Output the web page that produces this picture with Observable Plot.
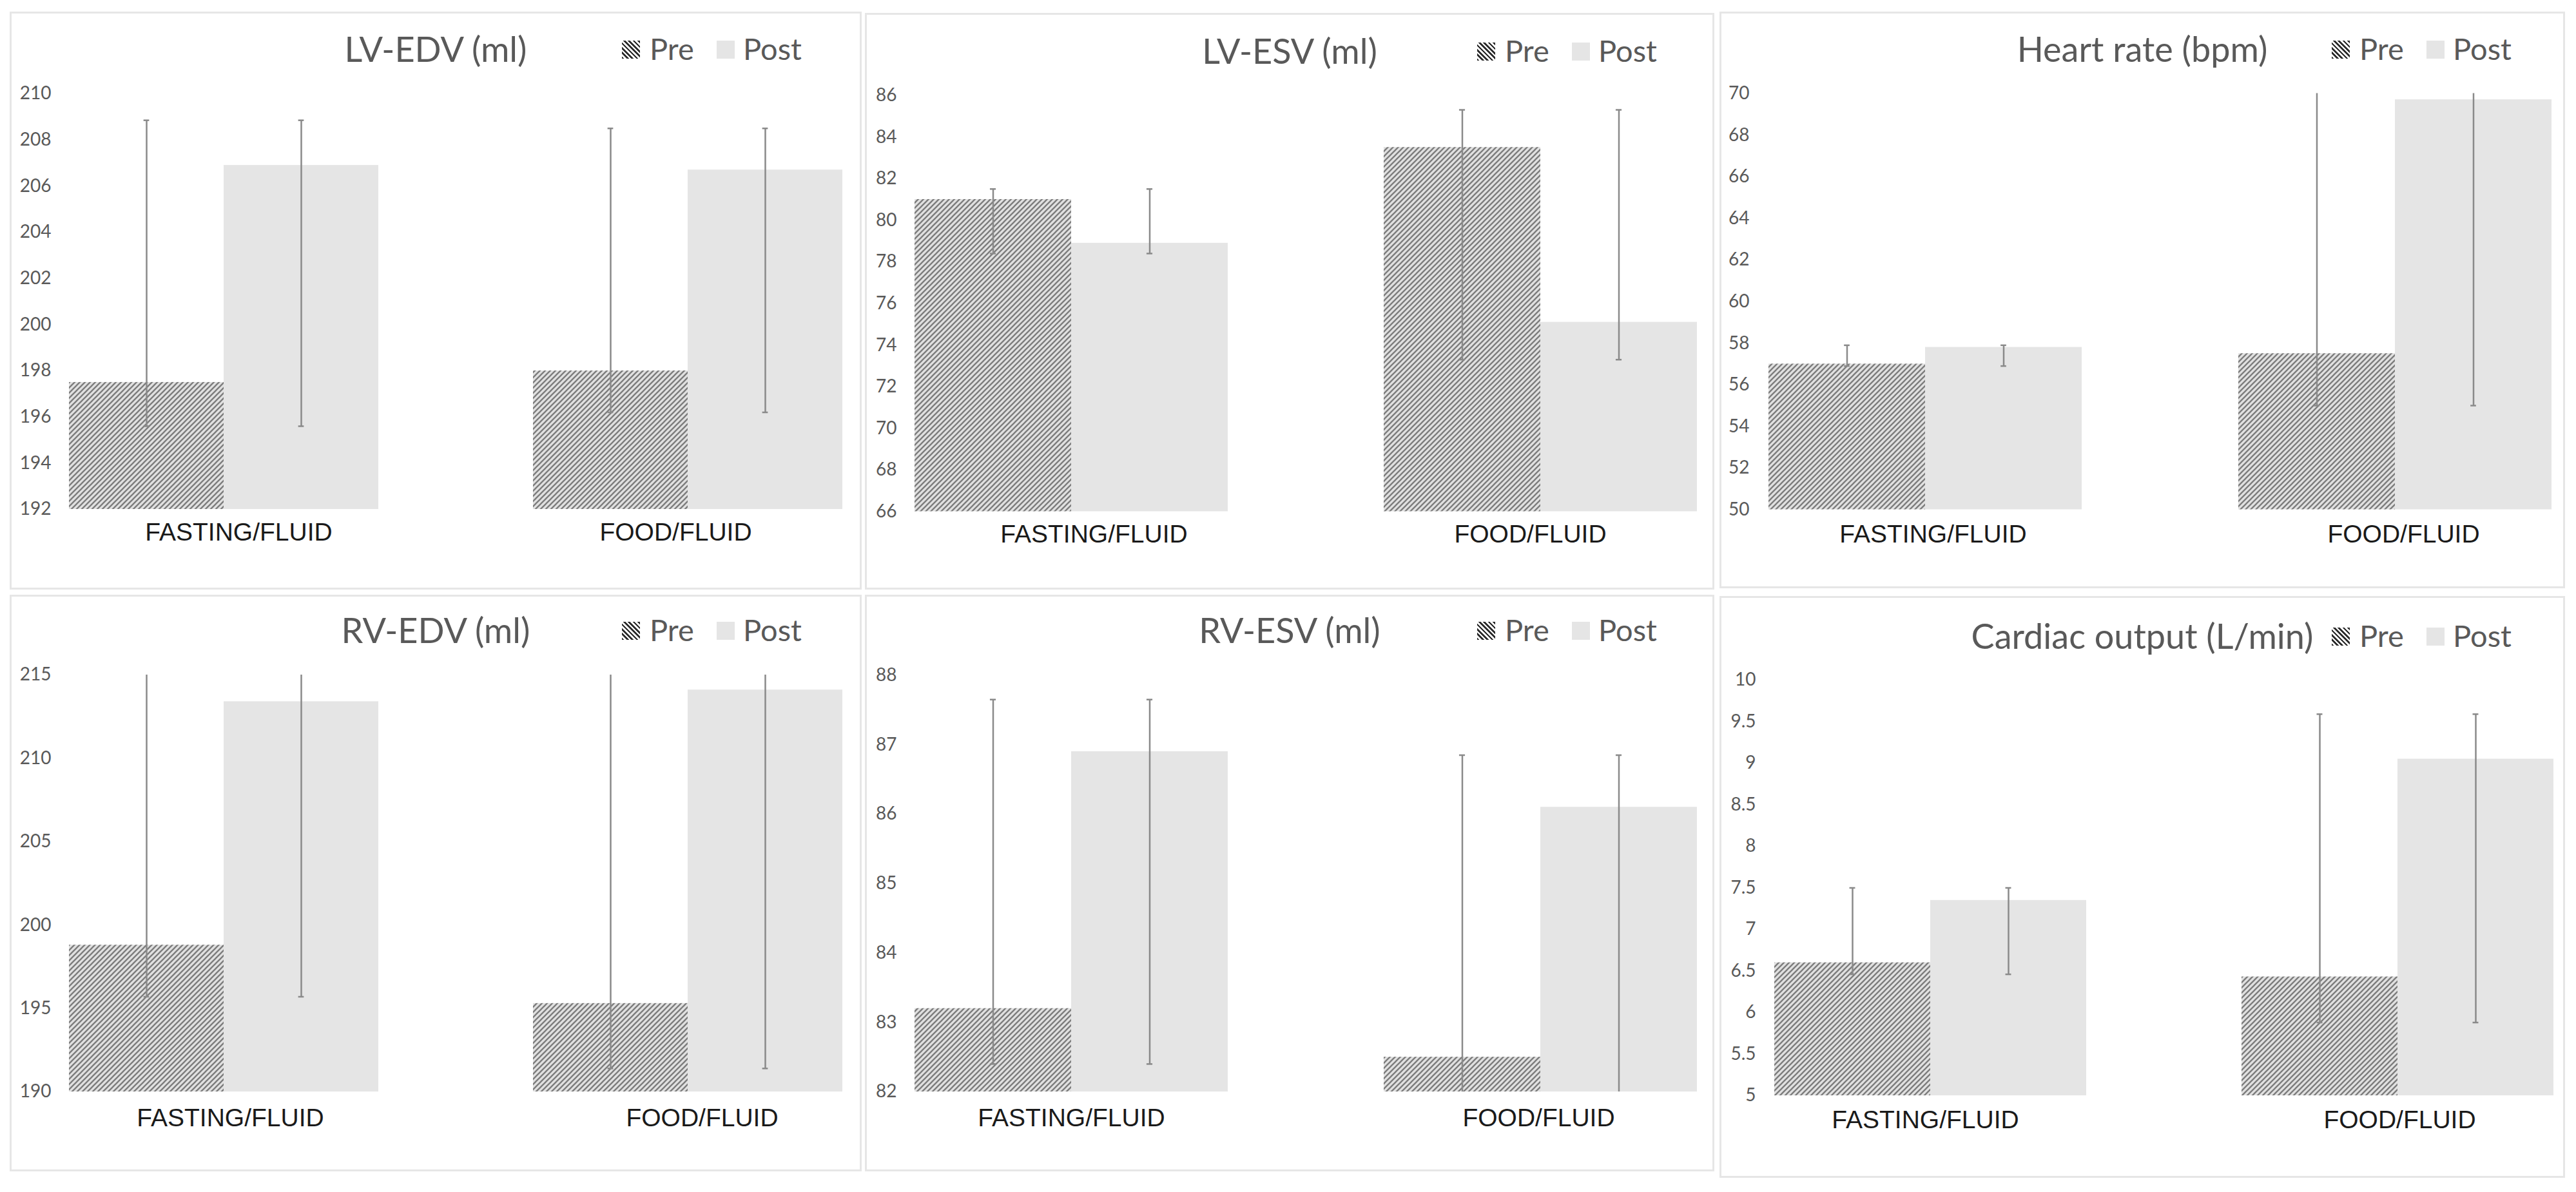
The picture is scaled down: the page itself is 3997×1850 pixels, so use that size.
<!DOCTYPE html>
<html>
<head>
<meta charset="utf-8">
<script src="https://cdn.jsdelivr.net/npm/d3@7"></script>
<script src="https://cdn.jsdelivr.net/npm/@observablehq/plot@0.6"></script>
<style>
  html, body { margin: 0; padding: 0; background: #ffffff; }
  body { width: 3997px; height: 1850px; position: relative; overflow: hidden; }
  .panel { position: absolute; box-sizing: border-box; }
  .frame { position: absolute; left: 0; top: 0; right: 0; bottom: 0; border: 3px solid #e6e6e6; pointer-events: none; }
  .header { position: relative; height: 100px; }
  .title { position: absolute; left: 0; right: 0; text-align: center; font-family: Lato, sans-serif; font-size: 54px; line-height: 54px; color: #595959; white-space: nowrap; }
  .ltext { position: absolute; font-family: Lato, sans-serif; font-size: 47px; line-height: 47px; color: #595959; white-space: nowrap; }
  .swatch { position: absolute; width: 28px; height: 28px; }
  .swatch.pre { background: repeating-linear-gradient(45deg, #2e2e2e 0px, #2e2e2e 2.6px, #ffffff 2.6px, #ffffff 5.2px); }
  .swatch.post { background: #e5e5e5; }
  .panel svg { display: block; }
</style>
</head>
<body>
<script>
// ---------- data ----------
const categories = ["FASTING/FLUID", "FOOD/FLUID"];
const series = ["Pre", "Post"];
const titles = ["LV-EDV (ml)", "LV-ESV (ml)", "Heart rate (bpm)", "RV-EDV (ml)", "RV-ESV (ml)", "Cardiac output (L/min)"];

const lvEdvPre = [197.5, 198.0];
const lvEdvPost = [206.9, 206.7];
const lvEdvErrLow = [195.6, 196.2];
const lvEdvErrHigh = [208.85, 208.5];
const lvEdvTicks = [192, 194, 196, 198, 200, 202, 204, 206, 208, 210];

const lvEsvPre = [81.0, 83.5];
const lvEsvPost = [78.9, 75.1];
const lvEsvErrLow = [78.4, 73.3];
const lvEsvErrHigh = [81.5, 85.3];
const lvEsvTicks = [66, 68, 70, 72, 74, 76, 78, 80, 82, 84, 86];

const hrPre = [57.0, 57.5];
const hrPost = [57.8, 69.7];
const hrErrLow = [56.9, 55.0];
const hrErrHigh = [57.9, 72.2];
const hrTicks = [50, 52, 54, 56, 58, 60, 62, 64, 66, 68, 70];

const rvEdvPre = [198.8, 195.3];
const rvEdvPost = [213.4, 214.1];
const rvEdvErrLow = [195.7, 191.4];
const rvEdvErrHigh = [216.5, 218.0];
const rvEdvTicks = [190, 195, 200, 205, 210, 215];

const rvEsvPre = [83.2, 82.5];
const rvEsvPost = [86.9, 86.1];
const rvEsvErrLow = [82.4, 81.7];
const rvEsvErrHigh = [87.65, 86.85];
const rvEsvTicks = [82, 83, 84, 85, 86, 87, 88];

const coPre = [6.6, 6.43];
const coPost = [7.35, 9.05];
const coErrLow = [6.46, 5.88];
const coErrHigh = [7.5, 9.59];
const coTicks = [5, 5.5, 6, 6.5, 7, 7.5, 8, 8.5, 9, 9.5, 10];

const preValues = [lvEdvPre, lvEsvPre, hrPre, rvEdvPre, rvEsvPre, coPre];
const postValues = [lvEdvPost, lvEsvPost, hrPost, rvEdvPost, rvEsvPost, coPost];
const errLows = [lvEdvErrLow, lvEsvErrLow, hrErrLow, rvEdvErrLow, rvEsvErrLow, coErrLow];
const errHighs = [lvEdvErrHigh, lvEsvErrHigh, hrErrHigh, rvEdvErrHigh, rvEsvErrHigh, coErrHigh];
const tickSets = [lvEdvTicks, lvEsvTicks, hrTicks, rvEdvTicks, rvEsvTicks, coTicks];

// ---------- layout (pixels) ----------
const headerH = 100;
const boxes = [
  {left: 15, top: 18, width: 1322, height: 897},
  {left: 1342, top: 20, width: 1318, height: 895},
  {left: 2668, top: 18, width: 1312, height: 895},
  {left: 15, top: 923, width: 1322, height: 895},
  {left: 1342, top: 923, width: 1318, height: 895},
  {left: 2668, top: 925, width: 1312, height: 903}
];
const geoms = [
  {plotTop: 127, plotBottom: 772, gL: 92, gR: 1293, labelRight: 64, catDy: 36, titleY: 59, labelDx: [23, -19]},
  {plotTop: 127.5, plotBottom: 773.5, gL: 77, gR: 1291, labelRight: 49, catDy: 36, titleY: 60, labelDx: [35, -16]},
  {plotTop: 126.5, plotBottom: 772.5, gL: 76, gR: 1292, labelRight: 46, catDy: 38.5, titleY: 59, labelDx: [12, 13]},
  {plotTop: 124, plotBottom: 771, gL: 92, gR: 1293, labelRight: 64, catDy: 41, titleY: 56, labelDx: [10, 22]},
  {plotTop: 124.5, plotBottom: 771, gL: 77, gR: 1291, labelRight: 49, catDy: 41, titleY: 56, labelDx: [0, -3]},
  {plotTop: 130, plotBottom: 775, gL: 84, gR: 1294, labelRight: 55, catDy: 38, titleY: 63, labelDx: [-8, 3]}
];
const groupPad = 0.333;
const capWidth = 9;
const hatchTile = 8;

function makePanel(i) {
  const box = boxes[i], g = geoms[i], ticks = tickSets[i];
  const rows = categories.flatMap((c, j) => series.map(s => ({
    cat: c, series: s,
    value: s === "Pre" ? preValues[i][j] : postValues[i][j],
    lo: errLows[i][j], hi: errHighs[i][j]
  })));
  const range = g.gR - g.gL;
  const step = range / (categories.length - groupPad);
  const barW = step * (1 - groupPad) / series.length;
  const inset = (barW - capWidth) / 2;

  const panel = document.createElement("div");
  panel.className = "panel";
  Object.assign(panel.style, {left: box.left + "px", top: box.top + "px", width: box.width + "px", height: box.height + "px"});

  const header = document.createElement("div");
  header.className = "header";
  const t = document.createElement("div");
  t.className = "title";
  t.style.top = (g.titleY - 28.5) + "px";
  t.textContent = titles[i];
  header.appendChild(t);
  const legendX = [950, 1097];
  const legendTextX = [993, 1138];
  series.forEach((s, k) => {
    const sw = document.createElement("div");
    sw.className = "swatch " + (s === "Pre" ? "pre" : "post");
    sw.style.left = legendX[k] + "px";
    sw.style.top = (g.titleY - 14) + "px";
    header.appendChild(sw);
    const lt = document.createElement("div");
    lt.className = "ltext";
    lt.style.left = legendTextX[k] + "px";
    lt.style.top = (g.titleY - 25) + "px";
    lt.textContent = s;
    header.appendChild(lt);
  });
  panel.appendChild(header);

  const svg = Plot.plot({
    width: box.width,
    height: box.height - headerH,
    marginTop: g.plotTop - headerH,
    marginBottom: box.height - g.plotBottom,
    marginLeft: g.gL,
    marginRight: box.width - g.gR,
    fx: {domain: categories, paddingInner: groupPad, paddingOuter: 0, axis: null, label: null},
    x: {domain: series, padding: 0, axis: null},
    y: {domain: [ticks[0], ticks[ticks.length - 1]], ticks: ticks, tickSize: 0,
        tickPadding: g.gL - g.labelRight, tickFormat: d => String(d), label: null},
    style: {fontFamily: "Lato, sans-serif", fontSize: "28px", color: "#595959", background: "transparent", overflow: "visible"},
    marks: [
      Plot.barY(rows.filter(d => d.series === "Pre"), {fx: "cat", x: "series", y: "value", fill: `url(#hatch${i})`, clip: true}),
      Plot.barY(rows.filter(d => d.series === "Post"), {fx: "cat", x: "series", y: "value", fill: "#e5e5e5", clip: true}),
      Plot.ruleX(rows, {fx: "cat", x: "series", y1: "lo", y2: "hi", stroke: "#8a8a8a", strokeWidth: 2.5, clip: true}),
      Plot.tickY(rows, {fx: "cat", x: "series", y: "lo", stroke: "#8a8a8a", strokeWidth: 2.5, insetLeft: inset, insetRight: inset, clip: true}),
      Plot.tickY(rows, {fx: "cat", x: "series", y: "hi", stroke: "#8a8a8a", strokeWidth: 2.5, insetLeft: inset, insetRight: inset, clip: true}),
      ...categories.map((c, j) => Plot.text([c], {
        fx: d => d, text: d => d, frameAnchor: "bottom", lineAnchor: "middle", dy: g.catDy, dx: g.labelDx[j],
        fontFamily: "Liberation Sans, Arial, sans-serif", fontSize: 39, fill: "#1a1a1a"
      }))
    ]
  });

  // hatch pattern ("/" stripes, bottom-left to top-right) for the "Pre" bars
  const s = hatchTile;
  const defs = d3.select(svg).insert("defs", ":first-child");
  const p = defs.append("pattern")
    .attr("id", `hatch${i}`)
    .attr("patternUnits", "userSpaceOnUse")
    .attr("width", s).attr("height", s);
  p.append("rect").attr("width", s).attr("height", s).attr("fill", "#e1e1e1");
  p.append("path")
    .attr("d", `M0,${s} L${s},0 M${-s / 2},${s / 2} L${s / 2},${-s / 2} M${s / 2},${s * 1.5} L${s * 1.5},${s / 2}`)
    .attr("stroke", "#7c7c7c")
    .attr("stroke-width", 2.3)
    .attr("fill", "none");

  panel.appendChild(svg);
  const frame = document.createElement("div");
  frame.className = "frame";
  panel.appendChild(frame);
  document.body.appendChild(panel);
}

for (let i = 0; i < 6; i++) makePanel(i);
</script>
</body>
</html>
